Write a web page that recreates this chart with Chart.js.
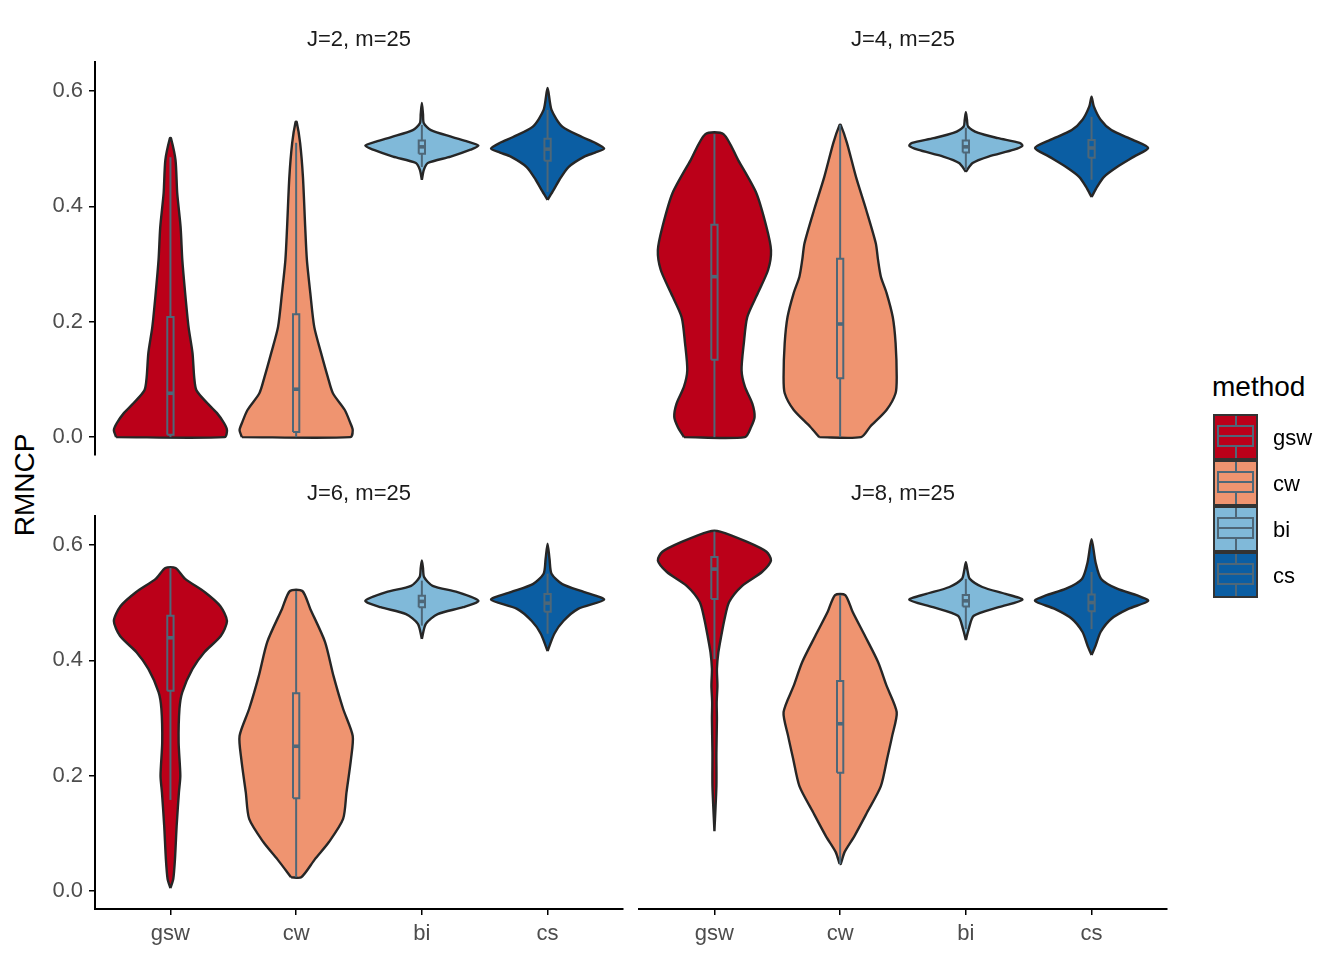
<!DOCTYPE html>
<html>
<head>
<meta charset="utf-8">
<script src="https://cdn.jsdelivr.net/npm/chart.js@4.4.1/dist/chart.umd.min.js"></script>
<style>
  body { margin: 0; background: #fff; font-family: "Liberation Sans", Arial, sans-serif; }
  #wrap { position: relative; width: 1344px; height: 960px; overflow: hidden; }
  canvas { position: absolute; left: 0; top: 0; }
  .strip { position: absolute; width: 300px; margin-left: -150px; text-align: center; font-size: 22px; line-height: 24px; color: #1a1a1a; }
  #ytitle { position: absolute; left: 25px; top: 485px; font-size: 28px; color: #000; transform: translate(-50%, -50%) rotate(-90deg); white-space: nowrap; }
  #legend-title { position: absolute; left: 1212px; top: 371px; font-size: 28px; line-height: 32px; color: #000; }
  .key { position: absolute; width: 41px; height: 42px; border: 2px solid #333; }
  .key .bx { position: absolute; left: 2px; right: 2px; top: 9px; height: 18px; border: 2px solid #4e6778; }
  .key .md { position: absolute; left: 2px; right: 2px; top: 19px; height: 2px; background: #4e6778; }
  .key .wh { position: absolute; left: 19.5px; width: 2px; background: #4e6778; }
  .klab { position: absolute; left: 1273px; font-size: 22px; line-height: 24px; color: #000; }
</style>
</head>
<body>
<div id="wrap">
  <div id="ytitle">RMNCP</div>
  <div id="legend-title">method</div>
</div>
<script>
const methods = ['gsw', 'cw', 'bi', 'cs'];
const panelTitles = ['J=2, m=25', 'J=4, m=25', 'J=6, m=25', 'J=8, m=25'];
const yTicks = [0, 0.2, 0.4, 0.6];
const fills = ['#BB0019', '#EF9470', '#80B9D9', '#0B5EA3'];

// violin outlines: [RMNCP, relative width]
const j2Gsw = [[0, 0.96], [0.012, 1], [0.024, 0.95], [0.042, 0.82], [0.059, 0.65], [0.081, 0.46], [0.104, 0.42], [0.146, 0.39], [0.191, 0.32], [0.25, 0.26], [0.307, 0.21], [0.364, 0.18], [0.423, 0.12], [0.48, 0.09], [0.518, 0.01]];
const j2Cw = [[0, 0.96], [0.012, 1], [0.024, 0.96], [0.047, 0.86], [0.076, 0.65], [0.104, 0.56], [0.146, 0.44], [0.191, 0.32], [0.25, 0.25], [0.307, 0.19], [0.364, 0.16], [0.451, 0.12], [0.51, 0.07], [0.546, 0.01]];
const j2Bi = [[0.446, 0], [0.463, 0.035], [0.475, 0.105], [0.486, 0.51], [0.498, 0.86], [0.505, 1], [0.512, 0.81], [0.52, 0.54], [0.532, 0.16], [0.544, 0.035], [0.56, 0.02], [0.579, 0]];
const j2Cs = [[0.411, 0], [0.428, 0.105], [0.446, 0.21], [0.468, 0.37], [0.486, 0.65], [0.493, 0.84], [0.5, 1], [0.51, 0.84], [0.52, 0.61], [0.538, 0.26], [0.567, 0.07], [0.605, 0]];

const j4Gsw = [[0, 0.54], [0.018, 0.65], [0.035, 0.71], [0.058, 0.67], [0.087, 0.54], [0.116, 0.48], [0.163, 0.52], [0.208, 0.58], [0.25, 0.77], [0.29, 0.95], [0.324, 1], [0.364, 0.92], [0.423, 0.74], [0.48, 0.42], [0.525, 0.16]];
const j4Cw = [[0, 0.37], [0.018, 0.53], [0.047, 0.82], [0.076, 0.98], [0.104, 1], [0.163, 0.98], [0.208, 0.93], [0.25, 0.82], [0.278, 0.72], [0.307, 0.67], [0.336, 0.63], [0.394, 0.46], [0.451, 0.28], [0.51, 0.12], [0.541, 0.01]];
const j4Bi = [[0.46, 0], [0.475, 0.12], [0.486, 0.4], [0.498, 0.85], [0.505, 1], [0.51, 0.95], [0.518, 0.57], [0.527, 0.22], [0.538, 0.04], [0.55, 0.02], [0.563, 0]];
const j4Cs = [[0.416, 0], [0.434, 0.1], [0.451, 0.22], [0.468, 0.45], [0.486, 0.75], [0.501, 1], [0.515, 0.73], [0.532, 0.35], [0.55, 0.16], [0.573, 0.04], [0.59, 0]];

const j6Gsw = [[0.005, 0], [0.021, 0.05], [0.055, 0.08], [0.113, 0.11], [0.171, 0.15], [0.2, 0.175], [0.258, 0.145], [0.316, 0.16], [0.345, 0.21], [0.385, 0.39], [0.414, 0.6], [0.442, 0.89], [0.468, 1], [0.494, 0.88], [0.518, 0.61], [0.541, 0.26], [0.56, 0.09]];
const j6Cw = [[0.024, 0.09], [0.055, 0.33], [0.085, 0.58], [0.125, 0.83], [0.171, 0.89], [0.229, 0.97], [0.269, 1], [0.316, 0.83], [0.373, 0.66], [0.432, 0.51], [0.489, 0.25], [0.52, 0.11]];
const j6Bi = [[0.437, 0], [0.463, 0.07], [0.48, 0.28], [0.492, 0.73], [0.503, 1], [0.518, 0.63], [0.529, 0.19], [0.544, 0.04], [0.56, 0.02], [0.573, 0]];
const j6Cs = [[0.416, 0], [0.446, 0.12], [0.468, 0.28], [0.489, 0.54], [0.505, 1], [0.518, 0.65], [0.532, 0.26], [0.55, 0.07], [0.575, 0.035], [0.602, 0]];

const j8Gsw = [[0.104, 0], [0.182, 0.035], [0.24, 0.035], [0.298, 0.044], [0.327, 0.04], [0.356, 0.053], [0.385, 0.044], [0.414, 0.07], [0.442, 0.12], [0.472, 0.18], [0.501, 0.26], [0.529, 0.49], [0.553, 0.84], [0.573, 1], [0.588, 0.92], [0.605, 0.58], [0.623, 0.1]];
const j8Cw = [[0.047, 0.01], [0.068, 0.08], [0.095, 0.25], [0.137, 0.48], [0.182, 0.72], [0.229, 0.83], [0.269, 0.92], [0.31, 1], [0.356, 0.82], [0.397, 0.67], [0.442, 0.44], [0.484, 0.22], [0.513, 0.09]];
const j8Bi = [[0.435, 0], [0.454, 0.05], [0.477, 0.14], [0.492, 0.58], [0.505, 1], [0.515, 0.7], [0.527, 0.29], [0.541, 0.07], [0.555, 0.03], [0.57, 0]];
const j8Cs = [[0.409, 0], [0.425, 0.07], [0.449, 0.16], [0.472, 0.35], [0.489, 0.65], [0.503, 1], [0.512, 0.82], [0.524, 0.45], [0.541, 0.17], [0.57, 0.07], [0.61, 0]];

// boxplots per method: [lower whisker, q1, median, q3, upper whisker]
const j2Box = [[0, 0.004, 0.076, 0.208, 0.485], [0, 0.009, 0.083, 0.213, 0.51], [0.468, 0.491, 0.503, 0.514, 0.541], [0.425, 0.479, 0.499, 0.517, 0.567]];
const j4Box = [[0, 0.134, 0.278, 0.368, 0.525], [0, 0.102, 0.196, 0.309, 0.541], [0.463, 0.493, 0.503, 0.514, 0.536], [0.446, 0.484, 0.501, 0.515, 0.555]];
const j6Box = [[0.158, 0.347, 0.439, 0.477, 0.56], [0.024, 0.161, 0.251, 0.343, 0.52], [0.46, 0.492, 0.502, 0.512, 0.538], [0.446, 0.484, 0.499, 0.515, 0.55]];
const j8Box = [[0.402, 0.506, 0.558, 0.579, 0.623], [0.047, 0.205, 0.29, 0.364, 0.513], [0.454, 0.493, 0.503, 0.513, 0.541], [0.454, 0.485, 0.5, 0.514, 0.553]];

const panels = [
  {title: panelTitles[0], violins: [j2Gsw, j2Cw, j2Bi, j2Cs], boxes: j2Box, left: 95, top: 62, showX: false, showY: true},
  {title: panelTitles[1], violins: [j4Gsw, j4Cw, j4Bi, j4Cs], boxes: j4Box, left: 639, top: 62, showX: false, showY: false},
  {title: panelTitles[2], violins: [j6Gsw, j6Cw, j6Bi, j6Cs], boxes: j6Box, left: 95, top: 516, showX: true, showY: true},
  {title: panelTitles[3], violins: [j8Gsw, j8Cw, j8Bi, j8Cs], boxes: j8Box, left: 639, top: 516, showX: true, showY: false}
];

const W = 1344, H = 960, PW = 528, PH = 393;
const HALF = 0.45, BOXW = 0.025;
const boxColor = '#4e6778', edge = '#262626';
Chart.defaults.font.family = '"Liberation Sans", Arial, sans-serif';

function outline(profile, pos) {
  const pts = profile.map(([v, d]) => ({x: pos - d * HALF, y: v}));
  const back = profile.slice().reverse();
  back.forEach(([v, d], i) => {
    if (i === 0 && d === 0) return;
    pts.push({x: pos + d * HALF, y: v});
  });
  pts.push(pts[0]);
  return pts;
}

function line(pts, width) {
  return {data: pts, showLine: true, borderColor: boxColor, borderWidth: width, pointRadius: 0, fill: false, order: 0, tension: 0};
}

const wrap = document.getElementById('wrap');

panels.forEach(p => {
  const datasets = [];
  p.violins.forEach((prof, i) => {
    datasets.push({
      data: outline(prof, i + 1), showLine: true, fill: 'shape',
      backgroundColor: fills[i], borderColor: edge, borderWidth: 2.4,
      pointRadius: 0, tension: 0.25, order: 1
    });
  });
  p.boxes.forEach(([lo, q1, med, q3, hi], i) => {
    const c = i + 1;
    datasets.push(line([{x: c, y: lo}, {x: c, y: q1}], 2));
    datasets.push(line([{x: c, y: q3}, {x: c, y: hi}], 2));
    datasets.push(line([{x: c - BOXW, y: q1}, {x: c + BOXW, y: q1}, {x: c + BOXW, y: q3}, {x: c - BOXW, y: q3}, {x: c - BOXW, y: q1}], 2));
    datasets.push(line([{x: c - BOXW, y: med}, {x: c + BOXW, y: med}], 3.6));
  });

  const cv = document.createElement('canvas');
  cv.width = W; cv.height = H;
  cv.style.width = W + 'px'; cv.style.height = H + 'px';
  wrap.appendChild(cv);

  const strip = document.createElement('div');
  strip.className = 'strip';
  strip.textContent = p.title;
  strip.style.left = (p.left + PW / 2) + 'px';
  strip.style.top = (p.top - 35) + 'px';
  wrap.appendChild(strip);

  new Chart(cv, {
    type: 'scatter',
    data: {datasets},
    options: {
      responsive: false,
      animation: false,
      events: [],
      layout: {padding: {
        left: p.showY ? p.left - 95 : p.left,
        top: p.top,
        right: W - p.left - PW,
        bottom: p.showX ? H - p.top - PH - 51 : H - p.top - PH
      }},
      plugins: {legend: {display: false}, tooltip: {enabled: false}},
      scales: {
        x: {
          type: 'linear', min: 0.4, max: 4.6, display: p.showX,
          afterBuildTicks: s => { s.ticks = methods.map((m, i) => ({value: i + 1})); },
          afterFit: s => { s.height = p.showX ? 51 : 0; },
          ticks: {callback: v => methods[Math.round(v) - 1], color: '#4d4d4d', font: {size: 22}, padding: 6, maxRotation: 0, autoSkip: false},
          grid: {drawOnChartArea: false, tickLength: 6, color: '#000', lineWidth: 1.5},
          border: {display: true, color: '#000', width: 2}
        },
        y: {
          type: 'linear', min: -0.031, max: 0.65, display: p.showY,
          afterBuildTicks: s => { s.ticks = yTicks.map(v => ({value: v})); },
          afterFit: s => { s.width = p.showY ? 95 : 0; },
          ticks: {callback: v => v.toFixed(1), color: '#4d4d4d', font: {size: 22}, padding: 6},
          grid: {drawOnChartArea: false, tickLength: 6, color: '#000', lineWidth: 1.5},
          border: {display: true, color: '#000', width: 2}
        }
      }
    }
  });
});

// legend
methods.forEach((m, i) => {
  const top = 414 + i * 46;
  const key = document.createElement('div');
  key.className = 'key';
  key.style.left = '1213px';
  key.style.top = top + 'px';
  key.style.background = fills[i];
  key.innerHTML = '<div class="wh" style="top:0;height:9px"></div><div class="bx"></div><div class="md"></div><div class="wh" style="top:31px;height:11px"></div>';
  wrap.appendChild(key);
  const lab = document.createElement('div');
  lab.className = 'klab';
  lab.textContent = m;
  lab.style.top = (top + 12) + 'px';
  wrap.appendChild(lab);
});
</script>
</body>
</html>
